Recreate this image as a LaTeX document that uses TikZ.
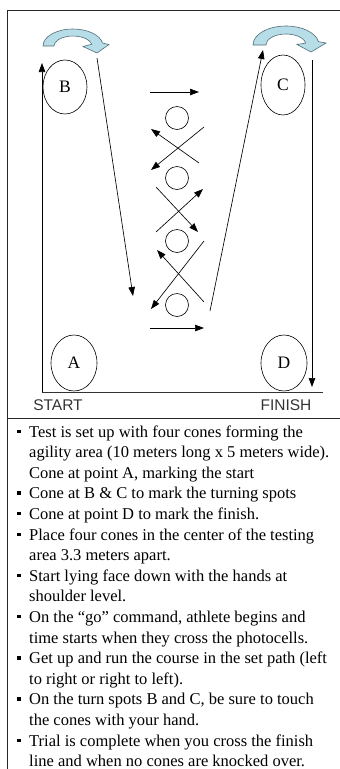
\documentclass[tikz,border=0pt]{standalone}
\usepackage{fontspec}
\setmainfont{Liberation Serif}
\newfontfamily\arialf{Liberation Sans}
\usetikzlibrary{arrows.meta,shapes.geometric}
\definecolor{bandfill}{RGB}{183,221,232}
\definecolor{banddraw}{RGB}{80,110,120}
\begin{document}
\begin{tikzpicture}[x=1pt,y=1pt,
  cone/.style={draw, ellipse, line width=0.6pt, inner sep=0pt, font=\fontsize{17.5}{19}\selectfont},
  smallcone/.style={draw, circle, line width=0.6pt, minimum size=23pt, inner sep=0pt},
  run/.style={line width=0.65pt, -{Triangle[length=9pt,width=6.5pt]}},
  frameline/.style={line width=0.8pt, black!85},
  body/.style={anchor=base west, inner sep=0pt, font=\fontsize{16.5}{20}\selectfont},
  turn/.style={fill=bandfill, draw=banddraw, line width=0.6pt},
  lbl/.style={font=\arialf\fontsize{15.5}{17}\selectfont, text=black!80, inner sep=0pt}
]
\useasboundingbox (0,0) rectangle (340,-769);
% frame
\draw[frameline] (7,-769) -- (7,-10) -- (340,-10);
\draw[frameline] (7,-418) -- (340,-418);

% corner cones
\node[cone, minimum width=44pt, minimum height=54pt] (B) at (65,-87) {B};
\node[cone, minimum width=44pt, minimum height=60pt] (C) at (283,-85) {C};
\node[cone, minimum width=46pt, minimum height=56pt] (A) at (74,-363) {A};
\node[cone, minimum width=46pt, minimum height=56pt] (D) at (284,-363) {D};

% ground line and labels
\coordinate (gl) at (42,-392);
\coordinate (gr) at (323,-392);
\draw[line width=0.8pt, black!80] (gl) -- (gr);
\node[lbl] (start) at (58,-405) {START};
\node[lbl] (finish) at (286,-405) {FINISH};

% turn arrows
\path[turn] (43,-46) arc[start angle=180,end angle=10,x radius=30,y radius=17]
  -- (109,-44.5) -- (97,-53) -- (83,-46.5) -- (91.7,-44.3)
  arc[start angle=10,end angle=180,x radius=19,y radius=10] -- cycle;
\path[turn] (253,-45) arc[start angle=180,end angle=10,x radius=33,y radius=19]
  -- (326,-43) -- (311,-52) -- (297,-44.5) -- (305.7,-43.1)
  arc[start angle=10,end angle=180,x radius=20,y radius=11] -- cycle;

% long runs
\coordinate (a0) at (42,-392);
\coordinate (a1) at (42,-63);
\draw[run] (a0) -- (a1);
\coordinate (b0) at (97,-58);
\coordinate (b1) at (133,-296);
\draw[run] (b0) -- (b1);
\coordinate (c0) at (210,-311);
\coordinate (c1) at (263,-50);
\draw[run] (c0) -- (c1);
\coordinate (d0) at (312,-60);
\coordinate (d1) at (312,-387);
\draw[run] (d0) -- (d1);

% centre cones
\node[smallcone] (k1) at (177,-118) {};
\node[smallcone] (k2) at (177,-178) {};
\node[smallcone] (k3) at (177,-241) {};
\node[smallcone] (k4) at (177,-305) {};

% weaving arrows
\coordinate (h0) at (150,-92);  \coordinate (h1) at (199,-92);
\draw[run] (h0) -- (h1);
\coordinate (x1a) at (204,-127); \coordinate (x1b) at (151,-170);
\draw[run] (x1a) -- (x1b);
\coordinate (x1c) at (199,-163); \coordinate (x1d) at (151,-129);
\draw[run] (x1c) -- (x1d);
\coordinate (x2a) at (156,-232); \coordinate (x2b) at (203,-189);
\draw[run] (x2a) -- (x2b);
\coordinate (x2c) at (156,-187); \coordinate (x2d) at (198,-232);
\draw[run] (x2c) -- (x2d);
\coordinate (x3a) at (204,-241); \coordinate (x3b) at (151,-309);
\draw[run] (x3a) -- (x3b);
\coordinate (x3c) at (204,-302); \coordinate (x3d) at (157,-250);
\draw[run] (x3c) -- (x3d);
\coordinate (g0) at (150,-328);  \coordinate (g1) at (204,-328);
\draw[run] (g0) -- (g1);

% bullets
\foreach \y in {437,498.8,519.4,540,581.2,622.4,663.6,704.8,746}
  \fill (17,-\y+4) rectangle (20.5,-\y+7.5);

% text
\node[body] (t1) at (29,-437) {Test is set up with four cones forming the};
\node[body] (t2) at (29,-457.6) {agility area (10 meters long x 5 meters wide).};
\node[body] (t3) at (29,-478.2) {Cone at point A, marking the start};
\node[body] (t4) at (29,-498.8) {Cone at B \& C to mark the turning spots};
\node[body] (t5) at (29,-519.4) {Cone at point D to mark the finish.};
\node[body] (t6) at (29,-540) {Place four cones in the center of the testing};
\node[body] (t7) at (29,-560.6) {area 3.3 meters apart.};
\node[body] (t8) at (29,-581.2) {Start lying face down with the hands at};
\node[body] (t9) at (29,-601.8) {shoulder level.};
\node[body] (t10) at (29,-622.4) {On the “go” command, athlete begins and};
\node[body] (t11) at (29,-643) {time starts when they cross the photocells.};
\node[body] (t12) at (29,-663.6) {Get up and run the course in the set path (left};
\node[body] (t13) at (29,-684.2) {to right or right to left).};
\node[body] (t14) at (29,-704.8) {On the turn spots B and C, be sure to touch};
\node[body] (t15) at (29,-725.4) {the cones with your hand.};
\node[body] (t16) at (29,-746) {Trial is complete when you cross the finish};
\node[body] (t17) at (29,-766.6) {line and when no cones are knocked over.};
\end{tikzpicture}
\end{document}
